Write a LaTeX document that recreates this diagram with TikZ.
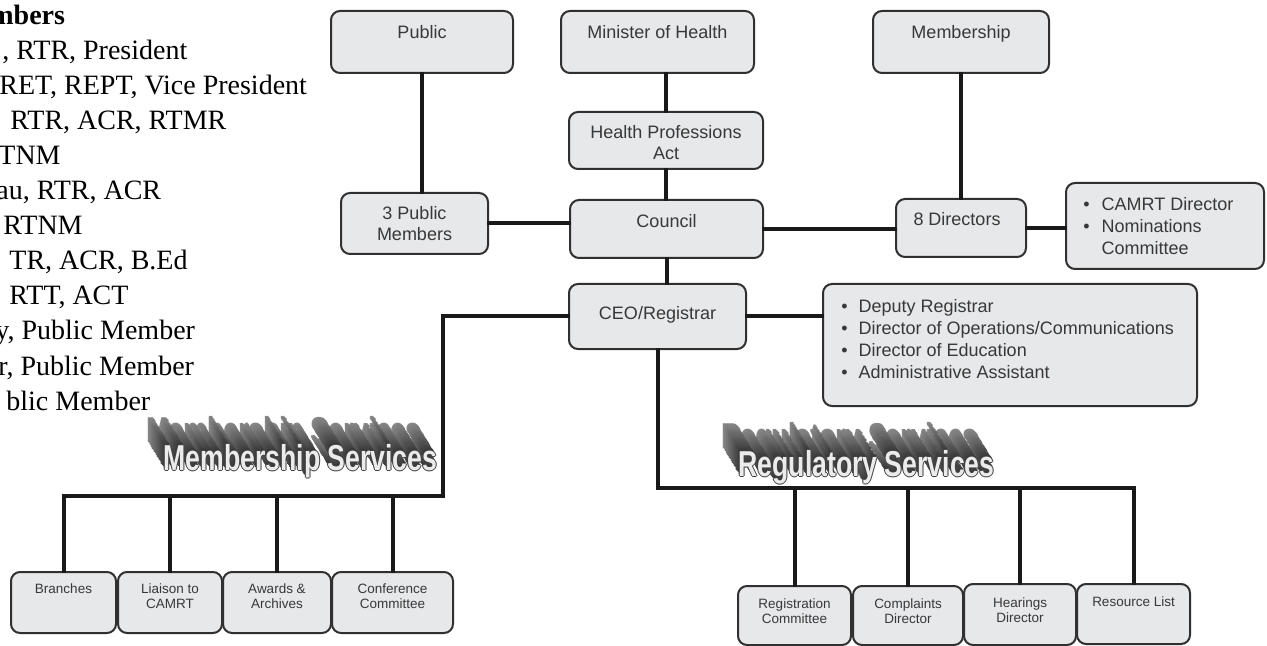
\documentclass[tikz,border=0pt]{standalone}
\usepackage{fontspec}
\setmainfont{Liberation Serif}
\setsansfont{Liberation Sans}
\newfontfamily\bannerfont{Liberation Sans}[FakeStretch=0.74]
\usetikzlibrary{positioning}
\definecolor{boxfill}{HTML}{E7E8EA}
\definecolor{boxline}{HTML}{303030}
\definecolor{boxtext}{HTML}{383838}

\begin{document}
\begin{tikzpicture}[x=0.5pt, y=-0.5pt,
    every node/.style={inner sep=0pt},
    orgbox/.style={draw=boxline, fill=boxfill, line width=1pt, rounded corners=4.5pt, anchor=north west},
    boxlabel/.style={anchor=north, align=center, text=boxtext, font=\sffamily\fontsize{9}{10.5}\selectfont},
    smalllabel/.style={boxlabel, font=\sffamily\fontsize{6.75}{7.6}\selectfont},
    listlabel/.style={anchor=north west, text=boxtext, font=\sffamily\fontsize{9}{11}\selectfont},
    memberline/.style={anchor=base west, font=\fontsize{14}{17.5}\selectfont},
    link/.style={line width=2pt, draw=black!90, line cap=rect},
    banner/.style={anchor=base west, font=\bannerfont\bfseries\fontsize{18}{18}\selectfont}]

\useasboundingbox (0,0) rectangle (1267,646);
\clip (0,0) rectangle (1267,646);

% council members (cut off at the left edge)
\node[memberline, font=\bfseries\fontsize{14}{17.5}\selectfont] (member1) at (-10,25) {mbers};
\node[memberline] (member2) at (2,60) {, RTR, President};
\node[memberline] (member3) at (-1,95) {RET, REPT, Vice President};
\node[memberline] (member4) at (10,130) {RTR, ACR, RTMR};
\node[memberline] (member5) at (-2,165) {TNM};
\node[memberline] (member6) at (-4,200) {au, RTR, ACR};
\node[memberline] (member7) at (3,235) {RTNM};
\node[memberline] (member8) at (9,270) {TR, ACR, B.Ed};
\node[memberline] (member9) at (9,305) {RTT, ACT};
\node[memberline] (member10) at (-5,340) {y, Public Member};
\node[memberline] (member11) at (-2,375) {r, Public Member};
\node[memberline] (member12) at (6,410) {blic Member};

% top rows
\node[orgbox, minimum width=91pt, minimum height=31pt,
  label={[boxlabel, yshift=-7.5pt]north:Public}] (public) at (330,10) {};
\node[orgbox, minimum width=96.5pt, minimum height=31pt,
  label={[boxlabel, yshift=-7.5pt]north:Minister of Health}] (minister) at (560,10) {};
\node[orgbox, minimum width=88pt, minimum height=31pt,
  label={[boxlabel, yshift=-7.5pt]north:Membership}] (membership) at (872,10) {};
\node[orgbox, minimum width=97pt, minimum height=28.5pt,
  label={[boxlabel, yshift=-7pt]north:Health Professions\\Act}] (hpa) at (568,111) {};
\node[orgbox, minimum width=73.5pt, minimum height=30.5pt,
  label={[boxlabel, yshift=-7pt]north:3 Public\\Members}] (pubmem) at (340,192) {};
\node[orgbox, minimum width=96.5pt, minimum height=29pt,
  label={[boxlabel, yshift=-7.5pt]north:Council}] (council) at (569,199) {};
\node[orgbox, minimum width=65pt, minimum height=29pt,
  label={[boxlabel, yshift=-7pt, xshift=-2pt]north:8 Directors}] (directors) at (895,198) {};
\node[orgbox, minimum width=99pt, minimum height=43pt,
  label={[listlabel, xshift=9pt, yshift=-6.5pt]north west:{\begin{tabular}{@{}l@{\hspace{6pt}}l@{}}
    \textbullet & CAMRT Director\\ \textbullet & Nominations\\ & Committee\end{tabular}}}] (camrt) at (1065,182) {};
\node[orgbox, minimum width=88.5pt, minimum height=32.5pt,
  label={[boxlabel, yshift=-11.5pt]north:CEO/Registrar}] (ceo) at (568,283) {};
\node[orgbox, minimum width=187pt, minimum height=61pt,
  label={[listlabel, xshift=9.5pt, yshift=-7pt]north west:{\begin{tabular}{@{}l@{\hspace{5.5pt}}l@{}}
    \textbullet & Deputy Registrar\\ \textbullet & Director of Operations/Communications\\
    \textbullet & Director of Education\\ \textbullet & Administrative Assistant\end{tabular}}}] (deputy) at (822,283) {};

% membership services
\node[orgbox, minimum width=52.5pt, minimum height=30.5pt,
  label={[smalllabel, yshift=-6pt]north:Branches}] (branches) at (10,571) {};
\node[orgbox, minimum width=52pt, minimum height=30.5pt,
  label={[smalllabel, yshift=-6pt]north:Liaison to\\CAMRT}] (liaison) at (117,571) {};
\node[orgbox, minimum width=54pt, minimum height=30.5pt,
  label={[smalllabel, yshift=-6pt]north:Awards \&\\Archives}] (awards) at (222,571) {};
\node[orgbox, minimum width=60.5pt, minimum height=30.5pt,
  label={[smalllabel, yshift=-6pt]north:Conference\\Committee}] (conference) at (331,571) {};

% regulatory services
\node[orgbox, minimum width=56.5pt, minimum height=29.5pt,
  label={[smalllabel, yshift=-6.7pt]north:Registration\\Committee}] (registration) at (737,585) {};
\node[orgbox, minimum width=55pt, minimum height=29.5pt,
  label={[smalllabel, yshift=-6.7pt]north:Complaints\\Director}] (complaints) at (852,585) {};
\node[orgbox, minimum width=56pt, minimum height=30.5pt,
  label={[smalllabel, yshift=-7.2pt]north:Hearings\\Director}] (hearings) at (963,583) {};
\node[orgbox, minimum width=56.5pt, minimum height=30pt,
  label={[smalllabel, yshift=-6.8pt]north:Resource List}] (resource) at (1076,583) {};

% 3d headings
\foreach \k [evaluate=\k as \shade using 78-1.3*\k] in {24,...,1} {
  \node[banner, text=black!\shade] (msdepth\k) at ({163-0.7*\k},{470-1.15*\k}) {Membership Services};
  \node[banner, text=black!\shade] (rsdepth\k) at ({738-0.7*\k},{476-1.15*\k}) {Regulatory Services};
}
\foreach \ox/\oy in {-1/0, 1/0, 0/1, 0/-1} {
  \node[banner, text=black!75] at (163+\ox,470+\oy) {Membership Services};
  \node[banner, text=black!75] at (738+\ox,476+\oy) {Regulatory Services};
}
\node[banner, text=black!8] (msbanner) at (163,470) {Membership Services};
\node[banner, text=black!8] (rsbanner) at (738,476) {Regulatory Services};

% connectors
\draw[link] (public.south) -- (public.south |- pubmem.north);
\draw[link] (hpa.north) -- (hpa.north |- minister.south);
\draw[link] (hpa.south) -- (hpa.south |- council.north);
\draw[link] (council.south) -- (council.south |- ceo.north);
\draw[link] (pubmem.east) -- (pubmem.east -| council.west);
\draw[link] (council.east) -- (council.east -| directors.west);
\draw[link] (membership.south) -- (membership.south |- directors.north);
\draw[link] (directors.east) -- (directors.east -| camrt.west);
\draw[link] (ceo.east) -- (ceo.east -| deputy.west);

\coordinate (msbar) at (443,496);
\draw[link] (ceo.west) -| (msbar) -- (msbar -| branches.north);
\foreach \b in {branches,liaison,awards,conference}
  \draw[link] (msbar -| \b.north) -- (\b.north);

\coordinate (rsbar) at (0,488);
\draw[link] (ceo.south) |- (resource.north |- rsbar);
\foreach \b in {registration,complaints,hearings,resource}
  \draw[link] (rsbar -| \b.north) -- (\b.north);
\end{tikzpicture}
\end{document}
